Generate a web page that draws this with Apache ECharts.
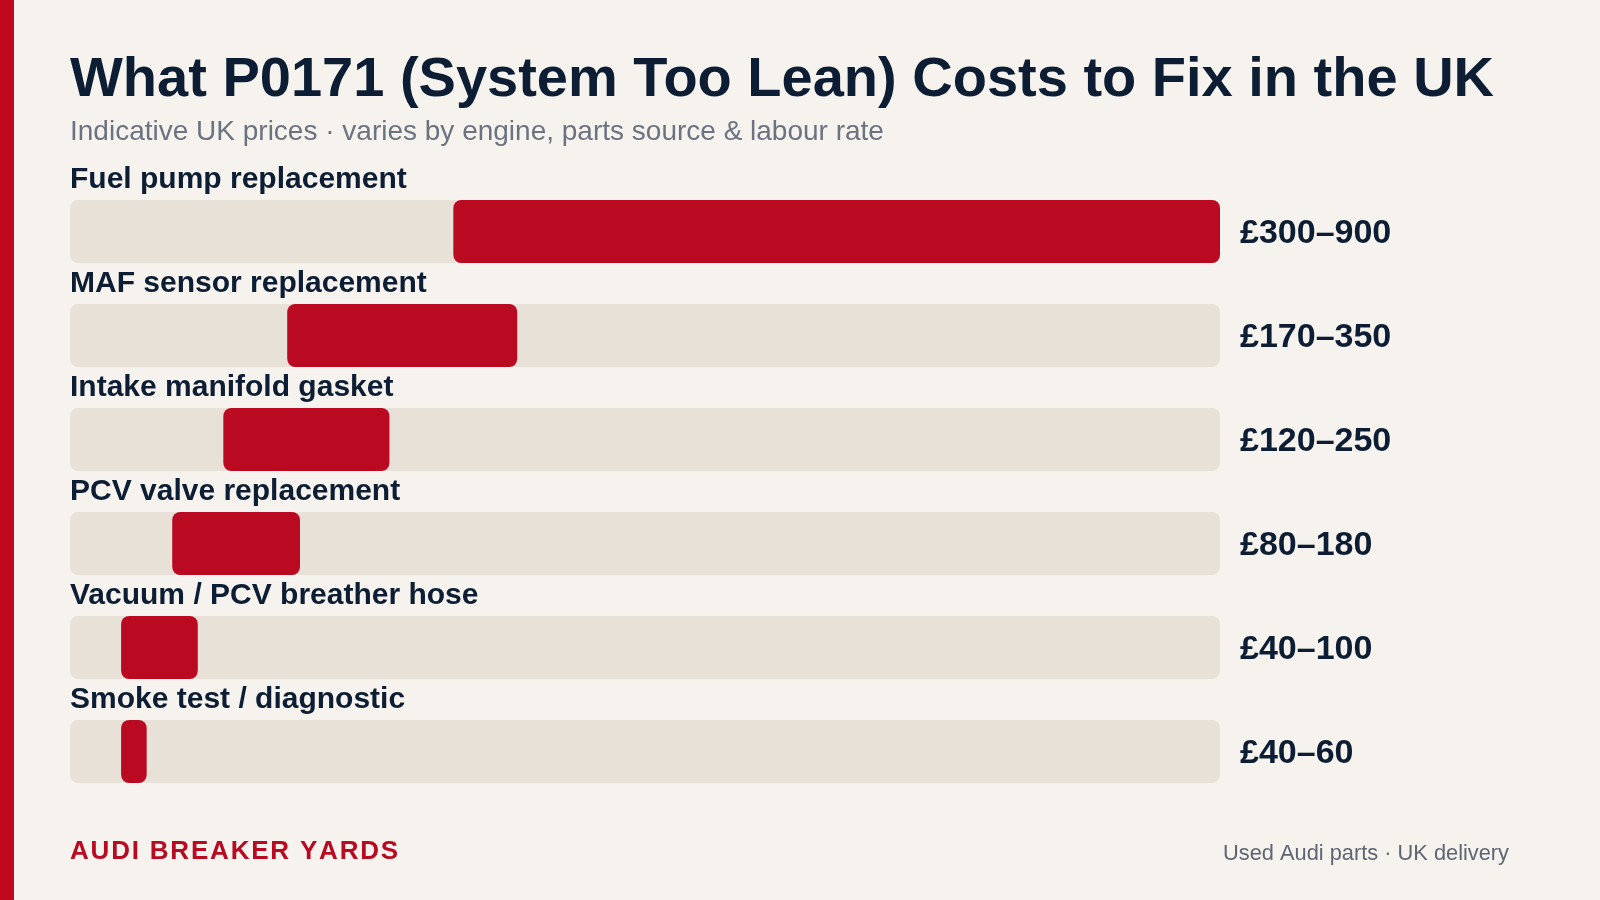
<!DOCTYPE html>
<html><head><meta charset="utf-8">
<script src="https://cdn.jsdelivr.net/npm/echarts@6/dist/echarts.min.js"></script>
<style>html,body{margin:0;padding:0;background:#f6f3ee;}#c{width:1600px;height:900px;}</style>
</head><body><div id="c"></div>
<script>
const categories = ['Fuel pump replacement','MAF sensor replacement','Intake manifold gasket','PCV valve replacement','Vacuum / PCV breather hose','Smoke test / diagnostic'];
const lowCost = [300, 170, 120, 80, 40, 40];
const highCost = [900, 350, 250, 180, 100, 60];
const axisMax = 900;
const titleText = 'What P0171 (System Too Lean) Costs to Fix in the UK';
const subtitleText = 'Indicative UK prices \u00b7 varies by engine, parts source & labour rate';
const brandText = 'AUDI BREAKER YARDS';
const footerText = 'Used Audi parts \u00b7 UK delivery';

const FONT = '"Liberation Sans", Arial, Helvetica, sans-serif';
const NAVY = '#0d1e34';
const RED = '#b90a22';

const chart = echarts.init(document.getElementById('c'), null, {renderer: 'canvas'});

// letter-spaced brand text
const ctx = document.createElement('canvas').getContext('2d');
ctx.font = 'bold 26px "Liberation Sans"';
const brandChildren = [];
let bx = 0;
for (const ch of brandText) {
  brandChildren.push({type: 'text', x: bx, y: 0, style: {text: ch, font: 'bold 26px ' + FONT, fill: RED, textVerticalAlign: 'middle'}});
  bx += ctx.measureText(ch).width + 1.8;
}

const option = {
  backgroundColor: '#f6f3ee',
  animation: false,
  grid: {left: 70, width: 1150, top: 179.5, height: 624, containLabel: false},
  xAxis: {type: 'value', min: 0, max: axisMax, show: false},
  yAxis: {type: 'category', data: categories, inverse: true, show: false},
  series: [
    {
      type: 'bar', barWidth: 63, barGap: '-100%', z: 1,
      data: categories.map(() => axisMax),
      itemStyle: {color: '#e7e1d7', borderRadius: 8},
      silent: true,
      label: {
        show: true, position: 'right', distance: 20, offset: [0, 2],
        formatter: p => '\u00a3' + lowCost[p.dataIndex] + '\u2013' + highCost[p.dataIndex],
        fontFamily: FONT, fontWeight: 'bold', fontSize: 34, color: NAVY
      }
    },
    {
      type: 'bar', stack: 'r', barWidth: 63, barGap: '-100%', z: 2,
      data: lowCost,
      itemStyle: {color: 'rgba(0,0,0,0)'},
      label: {
        show: true, position: [0, -20.5], align: 'left', verticalAlign: 'middle',
        formatter: '{b}', fontFamily: FONT, fontWeight: 'bold', fontSize: 30, color: NAVY
      }
    },
    {
      type: 'bar', stack: 'r', barWidth: 63, barGap: '-100%', z: 3,
      data: highCost.map((h, i) => h - lowCost[i]),
      itemStyle: {color: RED, borderRadius: 8}
    }
  ],
  graphic: [
    {type: 'rect', left: 0, top: 0, shape: {width: 14, height: 900}, style: {fill: '#c0081f'}},
    {type: 'text', x: 70, y: 81, style: {text: titleText, font: 'bold 56px ' + FONT, fill: NAVY, textVerticalAlign: 'middle'}},
    {type: 'text', x: 70, y: 132, style: {text: subtitleText, font: '28px ' + FONT, fill: '#6b7280', textVerticalAlign: 'middle'}},
    {type: 'group', x: 70, y: 852, children: brandChildren},
    {type: 'text', x: 1509, y: 854, style: {text: footerText, font: '21.8px ' + FONT, fill: '#5f6673', textAlign: 'right', textVerticalAlign: 'middle'}}
  ]
};
chart.setOption(option);
</script></body></html>
